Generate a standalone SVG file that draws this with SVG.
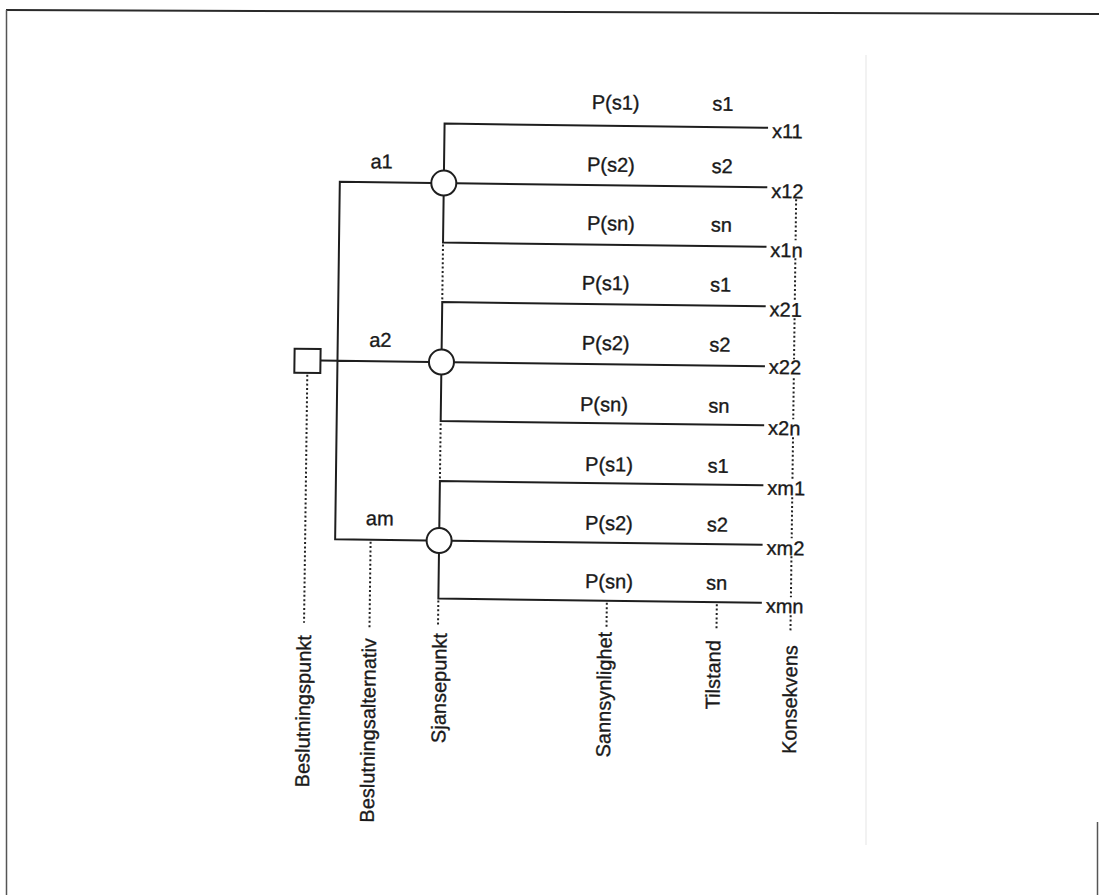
<svg xmlns="http://www.w3.org/2000/svg" width="1099" height="895" viewBox="0 0 1099 895">
<style>
.ln{stroke:#1e1e1e;stroke-width:2;fill:none;stroke-linecap:square}
.dot{stroke:#222;stroke-width:2;stroke-dasharray:2 2.4;fill:none}
.node{fill:#fff;stroke:#1e1e1e;stroke-width:2}
.t{font-family:"Liberation Sans",Arial,Helvetica,sans-serif;font-size:20px;fill:#1a1a1a;stroke:#1a1a1a;stroke-width:0.35}
.v{text-anchor:end}
</style>
<rect width="1099" height="895" fill="#fff"/>
<g id="frame">
<line x1="6" y1="10" x2="1099" y2="14" stroke="#2a2a2a" stroke-width="2"/>
<line x1="6.5" y1="10" x2="6.5" y2="895" stroke="#555" stroke-width="1.5"/>
<line x1="1097.5" y1="822" x2="1097.5" y2="895" stroke="#555" stroke-width="1.5"/>
<line x1="866" y1="55" x2="866" y2="845" stroke="#eeeeee" stroke-width="1.5"/>
</g>
<g transform="rotate(0.75 550 360)">
<g id="connectors">
<path class="ln" d="M429 184.5H337.5V542H429M320.5 363.5H429"/>
<path class="ln" d="M764 125H441.5V172M441.5 197V244H764M454 184.5H764"/>
<path class="ln" d="M764 303.5H441.5V351M441.5 376V422.5H764M454 363.5H764"/>
<path class="ln" d="M764 482.5H441.5V529.5M441.5 554.5V600H764M454 542H764"/>
<path class="dot" d="M441.5 246V302M441.5 425V481"/>
<path class="dot" d="M307.5 378V626M373 544V632M441.5 602V628M610 602V627M720 602V628"/>
<path class="dot" d="M794 196V237M794 255V297M794 315V356M794 375V416M794 434V476M794 494V535M794 553V594M794 612V629"/>
</g>
<g id="decision"><rect class="node" x="294.5" y="352" width="26" height="24"/></g>
<g id="chance1"><circle class="node" cx="441.5" cy="184.5" r="12.5"/></g>
<g id="chance2"><circle class="node" cx="441.5" cy="363.5" r="12.5"/></g>
<g id="chance3"><circle class="node" cx="441.5" cy="542" r="12.5"/></g>
<g id="alternatives" class="t">
<text x="368" y="170.5">a1</text>
<text x="369" y="349">a2</text>
<text x="368" y="527.5">am</text>
</g>
<g id="probabilities" class="t">
<text x="588.4" y="108.5">P(s1)</text>
<text x="584.5" y="170.9">P(s2)</text>
<text x="585.3" y="229.5">P(sn)</text>
<text x="580.8" y="289.3">P(s1)</text>
<text x="581.6" y="349.3">P(s2)</text>
<text x="580.7" y="410.5">P(sn)</text>
<text x="586.5" y="470.5">P(s1)</text>
<text x="587.2" y="529.2">P(s2)</text>
<text x="588" y="587.5">P(sn)</text>
</g>
<g id="states" class="t">
<text x="709" y="108.5">s1</text>
<text x="709" y="170.9">s2</text>
<text x="709" y="229.5">sn</text>
<text x="709" y="289.3">s1</text>
<text x="709" y="349.3">s2</text>
<text x="709" y="410.5">sn</text>
<text x="709" y="470.5">s1</text>
<text x="709" y="529.2">s2</text>
<text x="709" y="587.5">sn</text>
</g>
<g id="consequences" class="t">
<text x="769" y="135">x11</text>
<text x="769" y="195">x12</text>
<text x="769" y="254">x1n</text>
<text x="769" y="313.5">x21</text>
<text x="769" y="371">x22</text>
<text x="769" y="432">x2n</text>
<text x="769" y="492">xm1</text>
<text x="769" y="552">xm2</text>
<text x="769" y="610">xmn</text>
</g>
<g id="legend" class="t v">
<text transform="translate(314.6 638.2) rotate(-90)">Beslutningspunkt</text>
<text transform="translate(379.8 640.4) rotate(-90)">Beslutningsalternativ</text>
<text transform="translate(450.3 634.4) rotate(-90)">Sjansepunkt</text>
<text transform="translate(615.2 631) rotate(-90)">Sannsynlighet</text>
<text transform="translate(724.1 637.9) rotate(-90)">Tilstand</text>
<text transform="translate(801.2 641.9) rotate(-90)">Konsekvens</text>
</g>
</g>
</svg>
